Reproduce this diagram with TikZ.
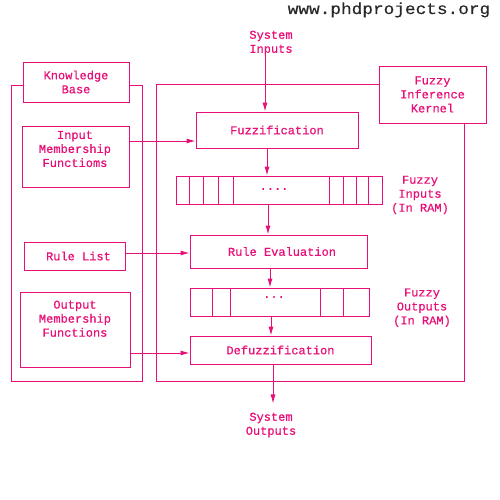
\documentclass[tikz,border=0pt]{standalone}
\usepackage{fontspec}
\setmonofont[FakeBold=0.6]{Liberation Mono}
\newfontfamily\wmfont[FakeBold=0.4]{Liberation Mono}
\usetikzlibrary{arrows.meta}
\definecolor{pk}{RGB}{232,16,120}
\definecolor{wm}{RGB}{40,40,40}
\tikzset{
  every node/.style={font=\ttfamily\fontsize{12}{14}\selectfont, text=pk},
  box/.style={draw=pk, line width=0.9pt, fill=white, inner sep=0pt},
  lbl/.style={align=center, inner sep=0pt},
  frame/.style={draw=pk, line width=0.9pt},
  arr/.style={draw=pk, line width=0.9pt, -{Latex[length=9pt,width=5pt]}},
  cell/.style={draw=pk, line width=0.9pt}
}
\begin{document}
\begin{tikzpicture}[x=1pt,y=-1pt]
\useasboundingbox (0,0) rectangle (500,500);
% watermark
\node[font=\wmfont\fontsize{16}{18}\selectfont, text=wm, anchor=base, inner sep=0pt, xscale=1.11, transform shape] (wmark) at (389,14) {www.phdprojects.org};
% frames
\draw[frame] (11,85) rectangle (142,381);
\draw[frame] (156,84) rectangle (464,381);
% knowledge side boxes
\node[box, minimum width=106pt, minimum height=40pt, align=center] (kb) at (76,82) {Knowledge\\Base};
\node[box, minimum width=107pt, minimum height=61pt] (inmf) at (75.5,156.5) {};
\node[lbl] (inmft) at (75,149) {Input\\Membership\\Functioms};
\node[box, minimum width=101pt, minimum height=28pt] (rl) at (74.5,256) {\hspace{8pt}Rule List};
\node[box, minimum width=110pt, minimum height=75pt] (omf) at (75,329.5) {};
\node[lbl] (omft) at (75,318.7) {Output\\Membership\\Functions};
% kernel side
\node[box, minimum width=107pt, minimum height=57pt, align=center] (kern) at (432.5,94.5) {Fuzzy\\Inference\\Kernel};
\node[lbl] (sysin) at (271,43) {System\\Inputs};
\node[box, minimum width=162pt, minimum height=36pt] (fuzz) at (277,130) {Fuzzification};
\node[box, minimum width=206pt, minimum height=28pt] (inarr) at (279,190) {};
\node (indots) at (274,189) {....};
\foreach \d in {14,28,43,58,154,168,181,193}
  \draw[cell] ([xshift=\d pt]inarr.north west) -- ([xshift=\d pt]inarr.south west);
\node[lbl] (finl) at (420,195) {Fuzzy\\Inputs\\(In RAM)};
\node[box, minimum width=177pt, minimum height=33pt] (rev) at (278.5,251.5) {\hspace{7pt}Rule Evaluation};
\node[box, minimum width=179pt, minimum height=28pt] (outarr) at (279.5,302) {};
\node (outdots) at (274,297) {...};
\foreach \d in {23,41,131,154}
  \draw[cell] ([xshift=\d pt]outarr.north west) -- ([xshift=\d pt]outarr.south west);
\node[lbl] (foutl) at (422,307.7) {Fuzzy\\Outputs\\(In RAM)};
\node[box, minimum width=181pt, minimum height=28pt] (defz) at (280.5,350) {Defuzzification};
\node[lbl] (sysout) at (271,425) {System\\Outputs};
% connector heights
\coordinate (y1) at (0,141);
\coordinate (y2) at (0,253);
\coordinate (y3) at (0,353);
\coordinate (x1) at (265,0);
\coordinate (x2) at (267,0);
\coordinate (x3) at (268,0);
\coordinate (x4) at (270,0);
\coordinate (x5) at (271,0);
\coordinate (x6) at (273,0);
% arrows
\draw[arr] (x1 |- sysin.south) -- (x1 |- fuzz.north);
\draw[arr] (x2 |- fuzz.south) -- (x2 |- inarr.north);
\draw[arr] (x3 |- inarr.south) -- (x3 |- rev.north);
\draw[arr] (x4 |- rev.south) -- (x4 |- outarr.north);
\draw[arr] (x5 |- outarr.south) -- (x5 |- defz.north);
\draw[arr] (x6 |- defz.south) -- ([yshift=-39pt]x6 |- defz.south);
\draw[arr] (inmf.east |- y1) -- (fuzz.west |- y1);
\draw[arr] (rl.east |- y2) -- (rev.west |- y2);
\draw[arr] (omf.east |- y3) -- (defz.west |- y3);
\end{tikzpicture}
\end{document}
